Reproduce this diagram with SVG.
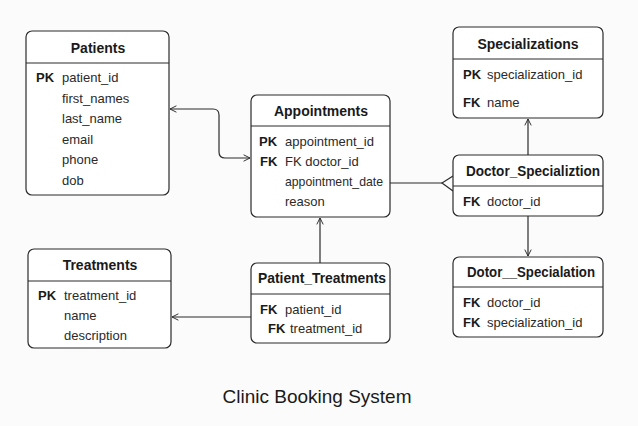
<svg xmlns="http://www.w3.org/2000/svg" width="638" height="426" viewBox="0 0 638 426">
<defs>
<style>
.box{fill:#ffffff;stroke:#2b2b2b;stroke-width:1.2}
.div{stroke:#2b2b2b;stroke-width:1.2}
.t{font-family:"Liberation Sans",Arial,sans-serif;font-size:14px;font-weight:bold;fill:#1a1a1a;text-anchor:middle}
.k{font-family:"Liberation Sans",Arial,sans-serif;font-size:13px;font-weight:bold;fill:#1a1a1a}
.f{font-family:"Liberation Sans",Arial,sans-serif;font-size:13px;fill:#2a2a2a}
.c{fill:none;stroke:#2b2b2b;stroke-width:1.2}
.cap{font-family:"Liberation Sans",Arial,sans-serif;font-size:19px;fill:#1a1a1a;text-anchor:middle}
</style>
<marker id="arr" viewBox="0 0 10 10" refX="9" refY="5" markerWidth="8" markerHeight="8" orient="auto-start-reverse" markerUnits="userSpaceOnUse">
<path d="M1,1 L9,5 L1,9" fill="none" stroke="#2b2b2b" stroke-width="1.2"/>
</marker>
</defs>
<rect width="638" height="426" fill="#fbfbfb"/>

<g id="connectors">
<path class="c" d="M170,109 H213 Q219,109 219,115 V152 Q219,158 225,158 H250" marker-start="url(#arr)" marker-end="url(#arr)"/>
<path class="c" d="M390,183 H442"/>
<path class="c" d="M453,176 L442,183 L453,191"/>
<path class="c" d="M528,155 V119" marker-end="url(#arr)"/>
<path class="c" d="M528,216 V256" marker-end="url(#arr)"/>
<path class="c" d="M251,317 H172" marker-end="url(#arr)"/>
<path class="c" d="M320,263 V218" marker-end="url(#arr)"/>
</g>

<g id="patients">
<rect class="box" x="26" y="31" width="143" height="164" rx="6"/>
<line class="div" x1="26" y1="63" x2="169" y2="63"/>
<text class="t" x="98" y="53">Patients</text>
<text class="k" x="36" y="82">PK</text>
<text class="f" x="62" y="82">patient_id</text>
<text class="f" x="62" y="103">first_names</text>
<text class="f" x="62" y="123">last_name</text>
<text class="f" x="62" y="144">email</text>
<text class="f" x="62" y="164">phone</text>
<text class="f" x="62" y="185">dob</text>
</g>

<g id="appointments">
<rect class="box" x="251" y="95" width="139" height="122" rx="6"/>
<line class="div" x1="251" y1="126" x2="390" y2="126"/>
<text class="t" x="321" y="116">Appointments</text>
<text class="k" x="259" y="146">PK</text>
<text class="f" x="285" y="146">appointment_id</text>
<text class="k" x="260" y="166">FK</text>
<text class="f" x="285" y="166">FK doctor_id</text>
<text class="f" x="285" y="186" textLength="98" lengthAdjust="spacingAndGlyphs">appointment_date</text>
<text class="f" x="285" y="206">reason</text>
</g>

<g id="specializations">
<rect class="box" x="453" y="27" width="150" height="91" rx="6"/>
<line class="div" x1="453" y1="59" x2="603" y2="59"/>
<text class="t" x="528" y="49">Specializations</text>
<text class="k" x="463" y="79">PK</text>
<text class="f" x="487" y="79">specialization_id</text>
<text class="k" x="463" y="107">FK</text>
<text class="f" x="487" y="107">name</text>
</g>

<g id="doctor_specializtion">
<rect class="box" x="453" y="155" width="150" height="61" rx="6"/>
<line class="div" x1="453" y1="186" x2="603" y2="186"/>
<text class="t" x="533" y="176" textLength="134" lengthAdjust="spacingAndGlyphs">Doctor_Specializtion</text>
<text class="k" x="463" y="206">FK</text>
<text class="f" x="487" y="206">doctor_id</text>
</g>

<g id="dotor_specialation">
<rect class="box" x="453" y="257" width="150" height="80" rx="6"/>
<line class="div" x1="453" y1="287" x2="603" y2="287"/>
<text class="t" x="531" y="277" textLength="128" lengthAdjust="spacingAndGlyphs">Dotor__Specialation</text>
<text class="k" x="463" y="307">FK</text>
<text class="f" x="487" y="307">doctor_id</text>
<text class="k" x="463" y="327">FK</text>
<text class="f" x="487" y="327">specialization_id</text>
</g>

<g id="treatments">
<rect class="box" x="28" y="249" width="143" height="99" rx="6"/>
<line class="div" x1="28" y1="281" x2="171" y2="281"/>
<text class="t" x="100" y="270">Treatments</text>
<text class="k" x="38" y="300">PK</text>
<text class="f" x="64" y="300">treatment_id</text>
<text class="f" x="64" y="320">name</text>
<text class="f" x="64" y="340">description</text>
</g>

<g id="patient_treatments">
<rect class="box" x="251" y="263" width="139" height="80" rx="6"/>
<line class="div" x1="251" y1="294" x2="390" y2="294"/>
<text class="t" x="322" y="283" textLength="128" lengthAdjust="spacingAndGlyphs">Patient_Treatments</text>
<text class="k" x="260" y="314">FK</text>
<text class="f" x="285" y="314">patient_id</text>
<text class="k" x="268" y="333">FK</text>
<text class="f" x="290" y="333">treatment_id</text>
</g>

<text class="cap" x="317" y="403">Clinic Booking System</text>
</svg>
